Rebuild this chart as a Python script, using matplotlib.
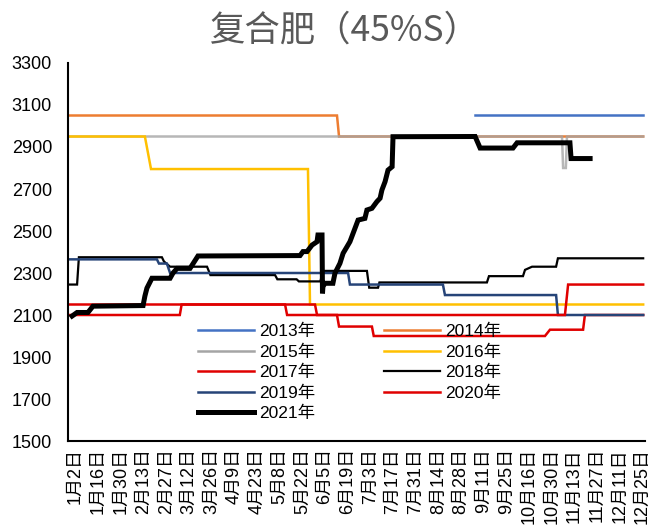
import matplotlib
matplotlib.use("Agg")
import matplotlib.pyplot as plt
from matplotlib.lines import Line2D

FAM = ['Liberation Sans', 'Noto Sans CJK SC', 'DejaVu Sans']
plt.rcParams['font.family'] = FAM

tick_labels = ["1月2日", "1月16日", "1月30日", "2月13日", "2月27日", "3月12日", "3月26日",
               "4月9日", "4月23日", "5月8日", "5月22日", "6月5日", "6月19日", "7月3日",
               "7月17日", "7月31日", "8月14日", "8月28日", "9月11日", "9月25日",
               "10月16日", "10月30日", "11月13日", "11月27日", "12月11日", "12月25日"]

# x positions in tick-index units (0 = 1月2日, 25 = 12月25日)
x2013 = [17.62, 25.03]
y2013 = [3050, 3050]

x2014 = [-0.33, 11.53, 11.62, 25.03]
y2014 = [3050, 3050, 2950, 2950]

x2015 = [-0.33, 21.45, 21.50, 21.62, 21.67, 25.03]
y2015 = [2950, 2950, 2800, 2800, 2950, 2950]

x2016 = [-0.33, 3.06, 3.33, 10.25, 10.34, 25.03]
y2016 = [2950, 2950, 2795, 2795, 2150, 2150]

x2017 = [-0.33, 4.60, 4.68, 10.56, 10.65, 11.53, 11.62, 13.07, 13.15, 20.70, 20.92, 22.38, 22.46, 25.03]
y2017 = [2100, 2100, 2150, 2150, 2100, 2100, 2045, 2045, 2000, 2000, 2030, 2030, 2100, 2100]

x2018 = [-0.33, 0.07, 0.15, 3.81, 3.90, 4.17, 5.80, 5.95, 8.80, 8.90, 9.75, 9.85,
         10.80, 10.90, 12.85, 12.95, 13.34, 13.40, 18.14, 18.23, 19.73, 19.82, 20.13,
         21.19, 21.27, 25.03]
y2018 = [2245, 2245, 2375, 2375, 2355, 2330, 2330, 2290, 2290, 2270, 2270, 2260,
         2260, 2310, 2310, 2230, 2230, 2255, 2255, 2285, 2285, 2315, 2330,
         2330, 2370, 2370]

x2019 = [-0.33, 3.59, 3.68, 4.03, 4.17, 12.02, 12.10, 16.20, 16.29, 21.19, 21.27, 25.03]
y2019 = [2365, 2365, 2345, 2345, 2300, 2300, 2245, 2245, 2195, 2195, 2100, 2100]

x2020 = [-0.33, 9.24, 9.33, 21.58, 21.72, 25.03]
y2020 = [2150, 2150, 2100, 2100, 2245, 2245]

x2021 = [-0.15, 0.07, 0.55, 0.77, 2.98, 3.06, 3.15, 3.37, 4.17, 4.30, 4.48, 5.05, 5.40,
         9.90, 10.03, 10.21, 10.43, 10.65, 10.69, 10.87, 10.89, 10.91, 11.00, 11.35,
         11.44, 11.66, 11.80, 11.97, 12.10, 12.24, 12.46, 12.76, 12.85, 13.07, 13.29,
         13.43, 13.51, 13.65, 13.78, 13.96, 14.00, 17.62, 17.84, 19.29, 19.47, 21.80,
         21.85, 22.69]
y2021 = [2095, 2112, 2112, 2142, 2145, 2190, 2228, 2275, 2275, 2300, 2322, 2322, 2381,
         2383, 2402, 2402, 2433, 2449, 2481, 2481, 2203, 2235, 2251, 2251,
         2299, 2346, 2394, 2425, 2449, 2489, 2552, 2560, 2600, 2608, 2640,
         2656, 2695, 2735, 2790, 2806, 2949, 2950, 2895, 2895, 2920, 2920,
         2845, 2845]

series = [
    ("2013年", x2013, y2013, "#4472C4", 1.8, 1.0),
    ("2014年", x2014, y2014, "#ED7D31", 1.8, 1.0),
    ("2015年", x2015, y2015, "#A5A5A5", 1.8, 0.8),
    ("2016年", x2016, y2016, "#FFC000", 1.8, 1.0),
    ("2017年", x2017, y2017, "#E00000", 1.8, 1.0),
    ("2018年", x2018, y2018, "#000000", 1.6, 1.0),
    ("2019年", x2019, y2019, "#264478", 1.8, 1.0),
    ("2020年", x2020, y2020, "#E00000", 1.8, 1.0),
    ("2021年", x2021, y2021, "#000000", 3.6, 1.0),
]

fig = plt.figure(figsize=(6.54, 5.29), dpi=100)
ax = fig.add_axes([68/654, 88/529, (645-68)/654, (441-63)/529])

handles = {}
for name, xs, ys, c, lw, a in series:
    ax.plot(xs, ys, color=c, lw=lw, alpha=a, solid_joinstyle='miter')
    handles[name] = Line2D([], [], color=c, lw=lw)

ax.set_xlim(-0.33, 25.11)
ax.set_ylim(1500, 3300)
ax.set_yticks(range(1500, 3301, 200))
ax.set_xticks(range(len(tick_labels)))
ax.set_xticklabels(tick_labels, rotation=90, fontsize=13, family=FAM)
ax.tick_params(axis='x', length=0, pad=5)
ax.tick_params(axis='y', length=0, pad=11.5, labelsize=13)
for s in ['top', 'right']:
    ax.spines[s].set_visible(False)
for s in ['left', 'bottom']:
    ax.spines[s].set_linewidth(1.5)
    ax.spines[s].set_color('black')

order = ["2013年", "2015年", "2017年", "2019年", "2021年", "2014年", "2016年", "2018年", "2020年"]
leg = fig.legend([handles[k] for k in order], order, ncol=2, frameon=False,
                 loc='upper left', bbox_to_anchor=(198/654, 1 - 324/529),
                 borderpad=0, borderaxespad=0, handlelength=3.2, handletextpad=0.3,
                 columnspacing=4.0, labelspacing=0.3, prop={'family': FAM, 'size': 12.5})

fig.text(345/654, 1 - 31/529, "复合肥（45%S）", ha='center', va='center',
         fontsize=25.5, color='#595959', family=['Noto Sans CJK SC', 'DejaVu Sans'])

fig.savefig("out.png", dpi=100)
